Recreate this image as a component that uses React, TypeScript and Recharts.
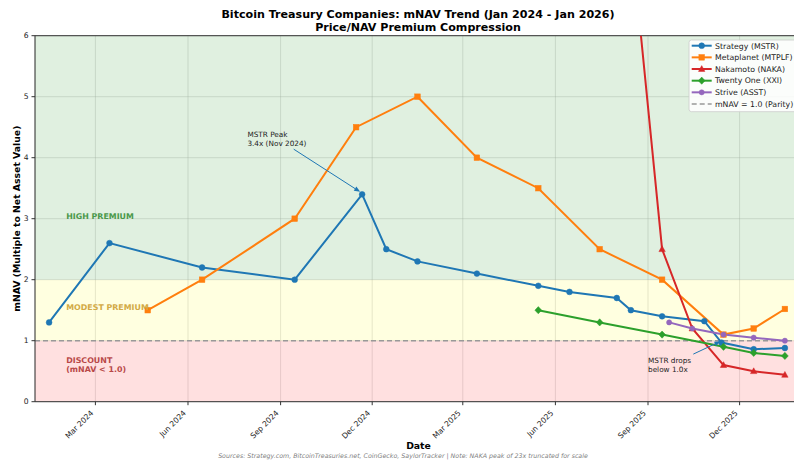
import React from 'react';
import {
  LineChart,
  Line,
  XAxis,
  YAxis,
  CartesianGrid,
  ReferenceArea,
  ReferenceLine,
  ReferenceDot,
} from 'recharts';

const FONT = '"DejaVu Sans", "Noto Sans", sans-serif';

// ---------- data ----------
const mstrDates = [
  '2024-01-15', '2024-03-15', '2024-06-15', '2024-09-15', '2024-11-21', '2024-12-15',
  '2025-01-15', '2025-03-15', '2025-05-15', '2025-06-15', '2025-08-01', '2025-08-15',
  '2025-09-15', '2025-10-27', '2025-11-13', '2025-12-15', '2026-01-15',
];
const mstrValues = [1.3, 2.6, 2.2, 2.0, 3.4, 2.5, 2.3, 2.1, 1.9, 1.8, 1.7, 1.5, 1.4, 1.32, 0.97, 0.86, 0.88];

const mtplfDates = [
  '2024-04-22', '2024-06-15', '2024-09-15', '2024-11-15', '2025-01-15', '2025-03-15',
  '2025-05-15', '2025-07-15', '2025-09-15', '2025-11-15', '2025-12-15', '2026-01-15',
];
const mtplfValues = [1.5, 2.0, 3.0, 4.5, 5.0, 4.0, 3.5, 2.5, 2.0, 1.1, 1.2, 1.52];

const nakaDates = ['2025-05-15', '2025-09-15', '2025-10-15', '2025-11-15', '2025-12-15', '2026-01-15'];
const nakaValues = [23, 2.5, 1.2, 0.6, 0.5, 0.44];

const xxiDates = ['2025-05-15', '2025-07-15', '2025-09-15', '2025-11-15', '2025-12-15', '2026-01-15'];
const xxiValues = [1.5, 1.3, 1.1, 0.9, 0.8, 0.75];

const asstDates = ['2025-09-22', '2025-10-15', '2025-11-15', '2025-12-15', '2026-01-15'];
const asstValues = [1.3, 1.2, 1.1, 1.05, 1.0];

const xTickDates = [
  '2024-03-01', '2024-06-01', '2024-09-01', '2024-12-01',
  '2025-03-01', '2025-06-01', '2025-09-01', '2025-12-01',
];
const xTickLabels = ['Mar 2024', 'Jun 2024', 'Sep 2024', 'Dec 2024', 'Mar 2025', 'Jun 2025', 'Sep 2025', 'Dec 2025'];
const yTicks = [0, 1, 2, 3, 4, 5, 6];

const xDomainDates = ['2024-01-01', '2026-01-31'];

// ---------- helpers ----------
const ts = (d: string) => Date.parse(d);
const toPoints = (dates: string[], values: number[]) => dates.map((d, i) => ({ t: ts(d), v: values[i] }));

const mstrData = toPoints(mstrDates, mstrValues);
const mtplfData = toPoints(mtplfDates, mtplfValues);
const nakaData = toPoints(nakaDates, nakaValues);
const xxiData = toPoints(xxiDates, xxiValues);
const asstData = toPoints(asstDates, asstValues);

const xTicks = xTickDates.map(ts);
const tickLabelMap: Record<number, string> = {};
xTicks.forEach((t, i) => (tickLabelMap[t] = xTickLabels[i]));

type Kind = 'circle' | 'square' | 'triangle' | 'diamond' | 'smallcircle';

function markerEl(kind: Kind, color: string, cx: number, cy: number, key?: any) {
  switch (kind) {
    case 'circle':
      return <circle key={key} cx={cx} cy={cy} r={2.9} fill={color} stroke={color} strokeWidth={0.5} />;
    case 'smallcircle':
      return <circle key={key} cx={cx} cy={cy} r={2.6} fill={color} stroke={color} strokeWidth={0.5} />;
    case 'square':
      return <rect key={key} x={cx - 2.8} y={cy - 2.8} width={5.6} height={5.6} fill={color} stroke={color} strokeWidth={0.5} />;
    case 'triangle':
      return (
        <polygon
          key={key}
          points={`${cx},${cy - 3.4} ${cx - 3.2},${cy + 2.4} ${cx + 3.2},${cy + 2.4}`}
          fill={color}
          stroke={color}
          strokeWidth={0.5}
        />
      );
    case 'diamond':
      return (
        <polygon
          key={key}
          points={`${cx},${cy - 3.6} ${cx + 3.4},${cy} ${cx},${cy + 3.6} ${cx - 3.4},${cy}`}
          fill={color}
          stroke={color}
          strokeWidth={0.5}
        />
      );
  }
  return null;
}

const makeDot = (kind: Kind, color: string) => (props: any) => {
  const { cx, cy, index } = props;
  if (cx == null || cy == null || isNaN(cx) || isNaN(cy)) return <g key={`e${index}`} />;
  return markerEl(kind, color, cx, cy, `d${index}`);
};

const series = [
  { name: 'Strategy (MSTR)', data: mstrData, color: '#1f77b4', kind: 'circle' as Kind },
  { name: 'Metaplanet (MTPLF)', data: mtplfData, color: '#ff7f0e', kind: 'square' as Kind },
  { name: 'Nakamoto (NAKA)', data: nakaData, color: '#d62728', kind: 'triangle' as Kind },
  { name: 'Twenty One (XXI)', data: xxiData, color: '#2ca02c', kind: 'diamond' as Kind },
  { name: 'Strive (ASST)', data: asstData, color: '#9467bd', kind: 'smallcircle' as Kind },
];

const XTick = (props: any) => {
  const { x, payload } = props;
  const label = tickLabelMap[payload.value] ?? '';
  return (
    <g transform={`translate(${x - 1.5},${413.5})`}>
      <text
        x={0}
        y={0}
        textAnchor="end"
        transform="rotate(-45)"
        fontFamily={FONT}
        fontSize={7.6}
        fill="#222"
      >
        {label}
      </text>
    </g>
  );
};

const ArrowShape = (color: string) => (props: any) => {
  const { x1, y1, x2, y2 } = props;
  if ([x1, y1, x2, y2].some((v) => v == null || isNaN(v))) return <g />;
  const dx = x2 - x1;
  const dy = y2 - y1;
  const len = Math.sqrt(dx * dx + dy * dy) || 1;
  const ux = dx / len;
  const uy = dy / len;
  const hl = 6;
  const hw = 2.4;
  const bx = x2 - ux * hl;
  const by = y2 - uy * hl;
  return (
    <g>
      <line x1={x1} y1={y1} x2={bx} y2={by} stroke={color} strokeWidth={1} />
      <polygon
        points={`${x2},${y2} ${bx - uy * hw},${by + ux * hw} ${bx + uy * hw},${by - ux * hw}`}
        fill={color}
      />
    </g>
  );
};

const TextShape = (lines: string[], opts: { fill: string; size: number; weight?: string; lh: number }) => (props: any) => {
  const { cx, cy } = props;
  if (cx == null || cy == null) return <g />;
  return (
    <text x={cx} y={cy} fontFamily={FONT} fontSize={opts.size} fontWeight={opts.weight ?? 'normal'} fill={opts.fill}>
      {lines.map((l, i) => (
        <tspan key={i} x={cx} dy={i === 0 ? 0 : opts.lh}>
          {l}
        </tspan>
      ))}
    </text>
  );
};

// annotation anchor points (data coordinates)
const peakTextAt = { t: ts('2024-07-30'), v: 4.34 };
const peakArrowFrom = { t: ts('2024-09-14'), v: 4.14 };
const peakArrowTo = { t: ts('2024-11-19'), v: 3.44 };
const dropTextAt = { t: ts('2025-09-01'), v: 0.63 };
const dropArrowFrom = { t: ts('2025-10-16'), v: 0.78 };
const dropArrowTo = { t: ts('2025-11-12'), v: 0.99 };
const regionLabelDate = ts('2024-02-01');

const Legend = () => {
  const x0 = 689;
  const y0 = 40;
  const rowH = 11.66;
  const entries = [
    ...series.map((s) => ({ name: s.name, color: s.color, kind: s.kind as Kind | null, dashed: false })),
    { name: 'mNAV = 1.0 (Parity)', color: '#999999', kind: null, dashed: true },
  ];
  return (
    <g>
      <rect x={x0} y={y0} width={130} height={71.7} rx={2.5} fill="#ffffff" fillOpacity={0.85} stroke="#cccccc" strokeWidth={0.8} />
      {entries.map((e, i) => {
        const cy = y0 + 5.7 + i * rowH;
        return (
          <g key={i}>
            <line
              x1={691.7}
              x2={711.7}
              y1={cy}
              y2={cy}
              stroke={e.color}
              strokeWidth={e.dashed ? 1.5 : 2}
              strokeDasharray={e.dashed ? '5 3' : undefined}
            />
            {e.kind ? markerEl(e.kind, e.color, 701.7, cy) : null}
            <text x={715} y={cy + 2.8} fontFamily={FONT} fontSize={7.8} fill="#222">
              {e.name}
            </text>
          </g>
        );
      })}
    </g>
  );
};

export default function App() {
  return (
    <div
      style={{
        position: 'absolute',
        left: 0,
        top: 0,
        width: 794,
        height: 461,
        overflow: 'hidden',
        background: '#ffffff',
      }}
    >
      <LineChart width={810} height={461} margin={{ top: 35.7, right: 9, left: 0, bottom: 29.3 }}>
        <CartesianGrid stroke="#b0b0b0" strokeOpacity={0.45} strokeWidth={0.8} />
        <ReferenceArea y1={0} y2={1} fill="#ff0000" fillOpacity={0.12} stroke="none" ifOverflow="hidden" />
        <ReferenceArea y1={1} y2={2} fill="#ffff00" fillOpacity={0.12} stroke="none" ifOverflow="hidden" />
        <ReferenceArea y1={2} y2={6} fill="#008000" fillOpacity={0.12} stroke="none" ifOverflow="hidden" />
        <XAxis
          dataKey="t"
          type="number"
          scale="time"
          domain={[ts(xDomainDates[0]), ts(xDomainDates[1])]}
          allowDataOverflow
          ticks={xTicks}
          tick={<XTick />}
          tickSize={3.5}
          tickLine={{ stroke: '#333' }}
          axisLine={{ stroke: '#333' }}
          height={30}
          interval={0}
        />
        <YAxis
          type="number"
          domain={[0, 6]}
          allowDataOverflow
          ticks={yTicks}
          tickSize={3.5}
          tickMargin={3}
          tickLine={{ stroke: '#333' }}
          axisLine={{ stroke: '#333' }}
          tick={{ fill: '#222', fontSize: 7.6, fontFamily: FONT }}
          width={35}
          interval={0}
        />
        <ReferenceLine y={6} stroke="#333" strokeWidth={1} />
        <ReferenceLine y={1} stroke="#999999" strokeWidth={1.5} strokeDasharray="5 3" />
        {series.map((s) => (
          <Line
            key={s.name}
            data={s.data}
            dataKey="v"
            name={s.name}
            stroke={s.color}
            strokeWidth={2}
            dot={makeDot(s.kind, s.color)}
            activeDot={false}
            isAnimationActive={false}
            type="linear"
          />
        ))}
        <ReferenceDot
          x={regionLabelDate}
          y={2.995}
          r={0}
          shape={TextShape(['HIGH PREMIUM'], { fill: '#4a984a', size: 7.9, weight: 'bold', lh: 8.7 })}
        />
        <ReferenceDot
          x={regionLabelDate}
          y={1.5}
          r={0}
          shape={TextShape(['MODEST PREMIUM'], { fill: '#d2aa45', size: 7.9, weight: 'bold', lh: 8.7 })}
        />
        <ReferenceDot
          x={regionLabelDate}
          y={0.635}
          r={0}
          shape={TextShape(['DISCOUNT', '(mNAV < 1.0)'], { fill: '#b84848', size: 7.9, weight: 'bold', lh: 8.7 })}
        />
        <ReferenceDot
          x={peakTextAt.t}
          y={peakTextAt.v}
          r={0}
          shape={TextShape(['MSTR Peak', '3.4x (Nov 2024)'], { fill: '#222', size: 7.3, lh: 8.7 })}
        />
        <ReferenceDot
          x={dropTextAt.t}
          y={dropTextAt.v}
          r={0}
          shape={TextShape(['MSTR drops', 'below 1.0x'], { fill: '#222', size: 7.3, lh: 8.7 })}
        />
        <ReferenceLine
          segment={[
            { x: peakArrowFrom.t, y: peakArrowFrom.v },
            { x: peakArrowTo.t, y: peakArrowTo.v },
          ]}
          shape={ArrowShape('#1f77b4')}
        />
        <ReferenceLine
          segment={[
            { x: dropArrowFrom.t, y: dropArrowFrom.v },
            { x: dropArrowTo.t, y: dropArrowTo.v },
          ]}
          shape={ArrowShape('#1f77b4')}
        />
      </LineChart>
      <svg
        width={794}
        height={461}
        style={{ position: 'absolute', left: 0, top: 0, pointerEvents: 'none' }}
      >
        <text x={418} y={18.3} textAnchor="middle" fontFamily={FONT} fontSize={11.1} fontWeight="bold" fill="#000">
          Bitcoin Treasury Companies: mNAV Trend (Jan 2024 - Jan 2026)
        </text>
        <text x={418} y={30.7} textAnchor="middle" fontFamily={FONT} fontSize={11.1} fontWeight="bold" fill="#000">
          Price/NAV Premium Compression
        </text>
        <text
          x={0}
          y={0}
          transform="translate(19.5,218.7) rotate(-90)"
          textAnchor="middle"
          fontFamily={FONT}
          fontSize={9.3}
          fontWeight="bold"
          fill="#000"
        >
          mNAV (Multiple to Net Asset Value)
        </text>
        <text x={418.5} y={449.3} textAnchor="middle" fontFamily={FONT} fontSize={9.3} fontWeight="bold" fill="#000">
          Date
        </text>
        <text x={403} y={458.2} textAnchor="middle" fontFamily={FONT} fontSize={6.3} fontStyle="italic" fill="#808080">
          Sources: Strategy.com, BitcoinTreasuries.net, CoinGecko, SaylorTracker | Note: NAKA peak of 23x truncated for scale
        </text>
        <Legend />
      </svg>
    </div>
  );
}
